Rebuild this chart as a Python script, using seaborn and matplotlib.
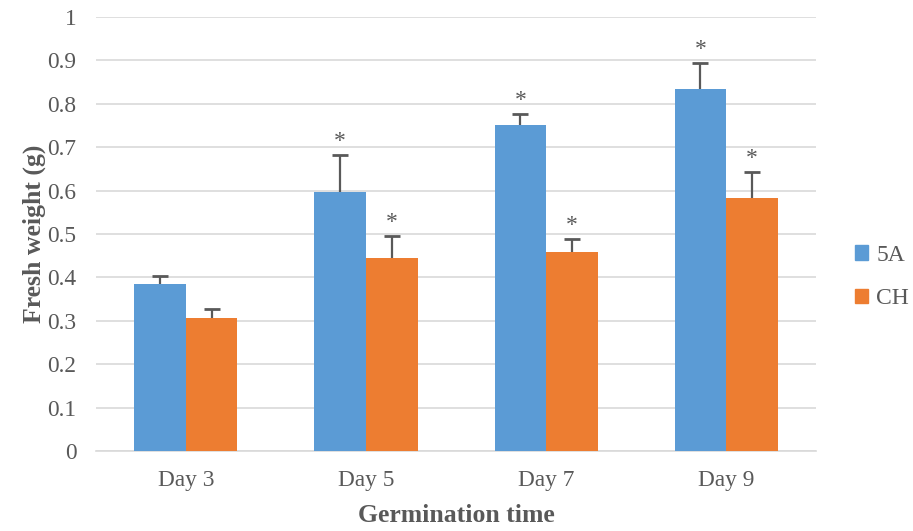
import numpy as np
import pandas as pd
import matplotlib
matplotlib.use('Agg')
import matplotlib.pyplot as plt
import seaborn as sns

# Dados
days = ['Day 3', 'Day 5', 'Day 7', 'Day 9']
lines = ['5A', 'CH']
mean_5a = [0.384, 0.597, 0.750, 0.835]
mean_ch = [0.306, 0.444, 0.459, 0.583]
err_5a = [0.020, 0.085, 0.026, 0.058]
err_ch = [0.020, 0.051, 0.029, 0.059]
sig_5a = [False, True, True, True]
sig_ch = [False, True, True, True]

colors = {'5A': '#5B9BD5', 'CH': '#ED7D31'}
gray = '#595959'

df = pd.DataFrame({
    'day': days * 2,
    'line': ['5A'] * 4 + ['CH'] * 4,
    'weight': mean_5a + mean_ch,
    'err': err_5a + err_ch,
    'sig': sig_5a + sig_ch,
})

sns.set_style('white')
plt.rcParams['font.family'] = ['Liberation Serif', 'DejaVu Serif']

fig = plt.figure(figsize=(9.13, 5.31), dpi=100)
ax = fig.add_axes([0.105, 0.1507, 0.789, 0.8173])

sns.barplot(data=df, x='day', y='weight', hue='line', hue_order=lines,
            palette=colors, width=0.572, saturation=1, gap=0,
            edgecolor='none', ax=ax, legend=False, zorder=3)

# Barras de erro (somente para cima) e asteriscos
for container, name in zip(ax.containers, lines):
    sub = df[df['line'] == name]
    for bar, (_, row) in zip(container, sub.iterrows()):
        xc = bar.get_x() + bar.get_width() / 2
        _, caps, _ = ax.errorbar(xc, row['weight'], yerr=[[0], [row['err']]], fmt='none',
                                 ecolor=gray, elinewidth=1.6, capsize=6, capthick=2, zorder=4)
        caps[0].set_visible(False)  # sem cap na base
        if row['sig']:
            ax.text(xc, row['weight'] + row['err'] + 0.007, '*', ha='center',
                    va='bottom', fontsize=17, color=gray)

ax.set_ylim(0, 1)
ax.set_xlim(-0.5, 3.5)
ax.set_yticks(np.arange(0, 1.01, 0.1))
ax.set_yticklabels(['0'] + [f'{v:.1f}' for v in np.arange(0.1, 0.95, 0.1)] + ['1'])
ax.yaxis.grid(True, color='#D9D9D9', linewidth=1.2, zorder=0)
ax.set_axisbelow(True)
for s in ['left', 'right', 'top']:
    ax.spines[s].set_visible(False)
ax.spines['bottom'].set_color('#D9D9D9')
ax.spines['bottom'].set_linewidth(1.2)
ax.tick_params(axis='both', length=0, labelsize=16.8, colors=gray)
ax.tick_params(axis='x', pad=14)
ax.tick_params(axis='y', pad=14)

ax.set_xlabel('Germination time', fontsize=18.5, fontweight='bold', color=gray, labelpad=9)
ax.set_ylabel('Fresh weight (g)', fontsize=18.5, fontweight='bold', color=gray, labelpad=1)

handles = [plt.Rectangle((0, 0), 1, 1, color=colors[n]) for n in lines]
fig.legend(handles, lines, loc='center left', bbox_to_anchor=(855 / 913, (531 - 277) / 531),
           frameon=False, fontsize=17, labelcolor=gray, handlelength=0.55,
           handleheight=0.55, handletextpad=0.35, labelspacing=0.95,
           borderaxespad=0, borderpad=0)

fig.savefig('out.png', dpi=100)
